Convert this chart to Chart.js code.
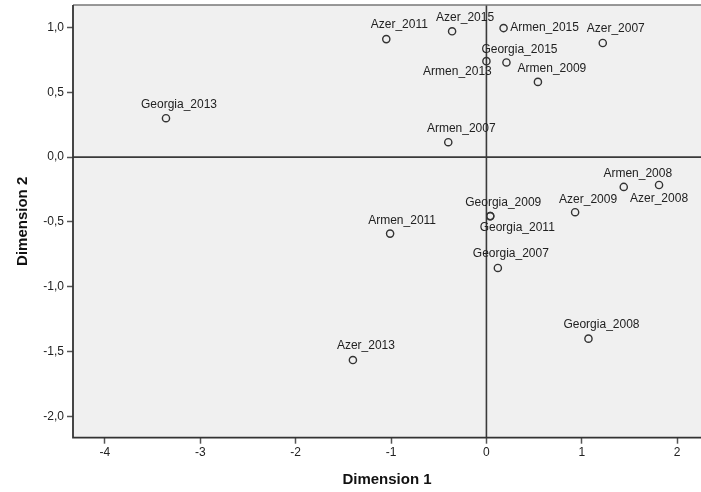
<!DOCTYPE html>
<html>
<head>
<meta charset="utf-8">
<script src="https://cdn.jsdelivr.net/npm/chart.js@4"></script>
<style>
  html, body { margin: 0; padding: 0; background: #fff; overflow: hidden; }
  #wrap { width: 701px; height: 492px; }
  canvas { display: block; }
</style>
</head>
<body>
<div id="wrap"><canvas id="mdsChart" width="701" height="492"></canvas></div>
<script>
// object points
const names = ["Azer_2011", "Azer_2015", "Armen_2015", "Azer_2007", "Armen_2013", "Georgia_2015",
    "Armen_2009", "Georgia_2013", "Armen_2007", "Armen_2008", "Azer_2008", "Azer_2009",
    "Georgia_2009", "Georgia_2011", "Armen_2011", "Georgia_2007", "Georgia_2008", "Azer_2013"];
const dim1 = [-1.05, -0.36, 0.18, 1.22, 0.0, 0.21, 0.54, -3.36, -0.40, 1.44, 1.81, 0.93,
    0.04, 0.04, -1.01, 0.12, 1.07, -1.40];
const dim2 = [0.91, 0.97, 0.995, 0.88, 0.74, 0.73, 0.58, 0.30, 0.115, -0.23, -0.215, -0.425,
    -0.455, -0.455, -0.59, -0.855, -1.40, -1.565];

const xTicks = [-4, -3, -2, -1, 0, 1, 2];
const yTicks = [1.0, 0.5, 0.0, -0.5, -1.0, -1.5, -2.0];

// label placement (pixel offset of label centre from its point)
const labelDx = [13, 13, 41, 13, -29, 13, 14, 13, 13, 14, 0, 13, 13, 27, 12, 13, 13, 13];
const labelDy = [-14, -14, 0, -14, 11, -13, -13, -14, -14, -13, 14, -13, -13, 12, -13, -14, -14, -14];

const FONT = "'Liberation Sans', Arial, sans-serif";

const plotFrame = {
    id: "plotFrame",
    beforeDatasetsDraw(chart) {
        const { ctx, chartArea: a, scales: { x, y } } = chart;
        ctx.save();
        ctx.fillStyle = "#f0f0f0";
        ctx.fillRect(a.left, a.top, a.right - a.left, a.bottom - a.top);
        // zero reference lines
        ctx.strokeStyle = "#3a3a3a";
        ctx.lineWidth = 1.6;
        ctx.beginPath();
        const x0 = x.getPixelForValue(0);
        const y0 = y.getPixelForValue(0);
        ctx.moveTo(x0, a.top);
        ctx.lineTo(x0, a.bottom);
        ctx.moveTo(a.left, y0);
        ctx.lineTo(a.right, y0);
        ctx.stroke();
        // frame (right side runs off the canvas)
        ctx.strokeStyle = "#777";
        ctx.lineWidth = 1.5;
        ctx.beginPath();
        ctx.moveTo(a.right, a.top);
        ctx.lineTo(a.left, a.top);
        ctx.stroke();
        ctx.strokeStyle = "#333";
        ctx.lineWidth = 1.8;
        ctx.beginPath();
        ctx.moveTo(a.left, a.top);
        ctx.lineTo(a.left, a.bottom);
        ctx.lineTo(a.right, a.bottom);
        ctx.stroke();
        ctx.restore();
    },
    afterDatasetsDraw(chart) {
        const { ctx } = chart;
        const pts = chart.getDatasetMeta(0).data;
        ctx.save();
        ctx.font = "12px " + FONT;
        ctx.fillStyle = "#222";
        ctx.textAlign = "center";
        ctx.textBaseline = "middle";
        pts.forEach((p, i) => {
            ctx.fillText(names[i], p.x + labelDx[i], p.y + labelDy[i]);
        });
        ctx.restore();
    }
};

const ctx = document.getElementById("mdsChart").getContext("2d");
new Chart(ctx, {
    type: "scatter",
    data: {
        datasets: [{
            data: names.map((n, i) => ({ x: dim1[i], y: dim2[i] })),
            pointStyle: "circle",
            pointRadius: 3.6,
            pointBorderWidth: 1.4,
            pointBorderColor: "#333",
            pointBackgroundColor: "rgba(0,0,0,0)"
        }]
    },
    options: {
        responsive: false,
        animation: false,
        layout: { padding: 0, autoPadding: false },
        plugins: { legend: { display: false }, tooltip: { enabled: false } },
        scales: {
            x: {
                type: "linear",
                min: -4.335,
                max: 2.25,
                afterBuildTicks: s => { s.ticks = xTicks.map(v => ({ value: v })); },
                afterFit: s => { s.height = 54.3; s.paddingLeft = 0; s.paddingRight = 0; },
                border: { display: false },
                grid: { drawOnChartArea: false, drawTicks: true, tickLength: 6, tickColor: "#555", tickWidth: 1.5 },
                ticks: {
                    padding: 2,
                    color: "#222",
                    font: { family: FONT, size: 12 },
                    maxRotation: 0,
                    callback: v => String(v)
                },
                title: {
                    display: true,
                    text: "Dimension 1",
                    color: "#111",
                    font: { family: FONT, size: 15, weight: "bold" },
                    padding: { top: 0, bottom: 3 }
                }
            },
            y: {
                type: "linear",
                min: -2.164,
                max: 1.173,
                afterBuildTicks: s => { s.ticks = yTicks.map(v => ({ value: v })); },
                afterFit: s => { s.width = 73; s.paddingTop = 5; s.paddingBottom = 0; },
                border: { display: false },
                grid: { drawOnChartArea: false, drawTicks: true, tickLength: 6, tickColor: "#555", tickWidth: 1.5 },
                ticks: {
                    padding: 3,
                    color: "#222",
                    font: { family: FONT, size: 12 },
                    callback: v => v.toFixed(1).replace(".", ",")
                },
                title: {
                    display: true,
                    text: "Dimension 2",
                    color: "#111",
                    font: { family: FONT, size: 15, weight: "bold" },
                    padding: { top: 14, bottom: 0 }
                }
            }
        }
    },
    plugins: [plotFrame]
});
</script>
</body>
</html>
